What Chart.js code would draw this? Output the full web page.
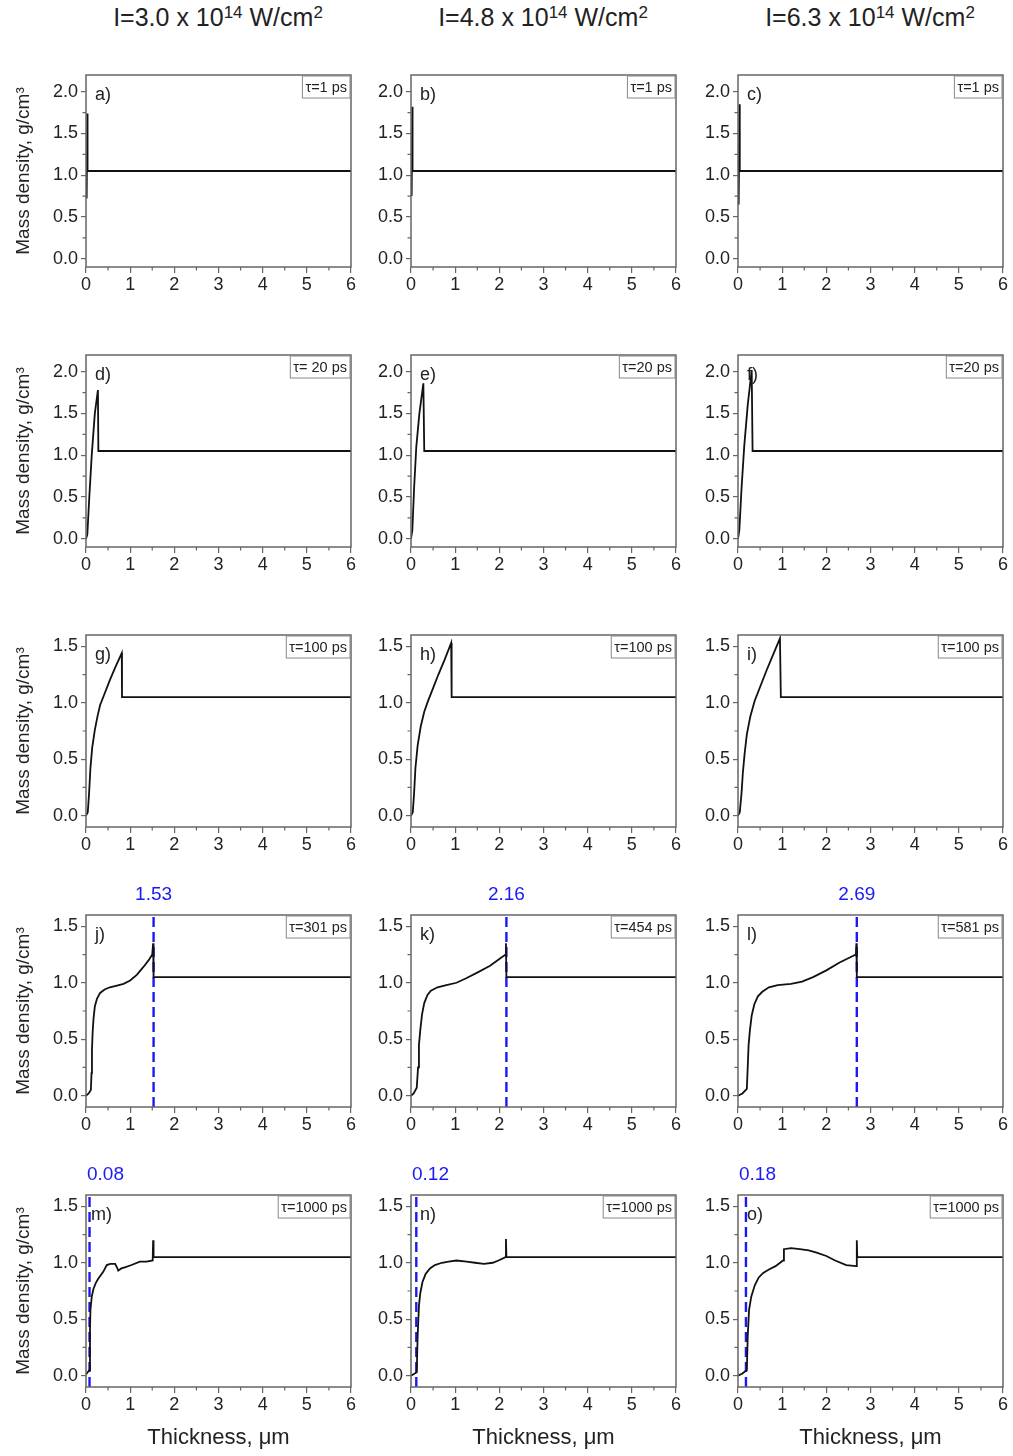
<!DOCTYPE html>
<html>
<head>
<meta charset="utf-8">
<script src="https://cdn.jsdelivr.net/npm/chart.js@4.4.1/dist/chart.umd.min.js"></script>
<style>
  body { margin: 0; background: #fff; }
  #page { position: relative; width: 1013px; height: 1456px; font-family: "Liberation Sans", Arial, sans-serif; color: #222; }
  #page canvas { position: absolute; }
  .head { position: absolute; top: 3px; width: 300px; text-align: center; font-size: 25px; white-space: nowrap; }
  .head sup { font-size: 17px; vertical-align: 8px; line-height: 0; }
</style>
</head>
<body>
<div id="page">
  <div class="head" style="left:68px">I=3.0 x 10<sup>14</sup> W/cm<sup>2</sup></div>
  <div class="head" style="left:393px">I=4.8 x 10<sup>14</sup> W/cm<sup>2</sup></div>
  <div class="head" style="left:720px">I=6.3 x 10<sup>14</sup> W/cm<sup>2</sup></div>
</div>
<script>
// density profiles, [thickness um, density g/cm3]
const profA = [[0.015, 0.72], [0.03, 1.74], [0.035, 1.05], [6, 1.05]];
const profB = [[0.015, 0.75], [0.03, 1.82], [0.035, 1.05], [6, 1.05]];
const profC = [[0.015, 0.65], [0.035, 1.85], [0.04, 1.05], [6, 1.05]];

const profD = [[0, 0], [0.03, 0.05], [0.075, 0.5], [0.13, 1.0], [0.2, 1.5], [0.27, 1.78], [0.28, 1.05], [6, 1.05]];
const profE = [[0, 0], [0.03, 0.1], [0.07, 0.6], [0.12, 1.1], [0.19, 1.5], [0.28, 1.86], [0.3, 1.05], [6, 1.05]];
const profF = [[0, 0], [0.03, 0.1], [0.08, 0.6], [0.14, 1.1], [0.22, 1.6], [0.31, 2.02], [0.33, 1.05], [6, 1.05]];

const profG = [[0, 0], [0.04, 0.03], [0.07, 0.2], [0.1, 0.42], [0.14, 0.6], [0.2, 0.76], [0.26, 0.88],
  [0.32, 0.98], [0.42, 1.08], [0.54, 1.2], [0.67, 1.32], [0.81, 1.44], [0.815, 1.05], [6, 1.05]];
const profH = [[0, 0], [0.04, 0.03], [0.07, 0.2], [0.1, 0.42], [0.15, 0.62], [0.22, 0.79], [0.3, 0.92],
  [0.38, 1.01], [0.5, 1.13], [0.62, 1.25], [0.76, 1.38], [0.91, 1.53], [0.92, 1.05], [6, 1.05]];
const profI = [[0, 0], [0.04, 0.03], [0.08, 0.2], [0.11, 0.38], [0.15, 0.55], [0.2, 0.72], [0.28, 0.88],
  [0.38, 1.02], [0.5, 1.14], [0.65, 1.29], [0.8, 1.43], [0.95, 1.57], [0.97, 1.05], [6, 1.05]];

const profJ = [[0, 0], [0.06, 0.02], [0.11, 0.05], [0.125, 0.2], [0.135, 0.4], [0.15, 0.56], [0.17, 0.68],
  [0.2, 0.79], [0.25, 0.86], [0.32, 0.91], [0.42, 0.94], [0.54, 0.96], [0.7, 0.975], [0.85, 0.99],
  [1.0, 1.02], [1.15, 1.07], [1.3, 1.14], [1.42, 1.2], [1.5, 1.25], [1.52, 1.35], [1.53, 1.05], [6, 1.05]];
const profK = [[0, 0], [0.06, 0.02], [0.13, 0.07], [0.16, 0.25], [0.18, 0.45], [0.21, 0.58], [0.25, 0.72],
  [0.3, 0.82], [0.37, 0.89], [0.45, 0.93], [0.6, 0.96], [0.8, 0.98], [1.03, 1.0], [1.25, 1.04],
  [1.5, 1.09], [1.79, 1.15], [2.0, 1.21], [2.14, 1.25], [2.15, 1.35], [2.16, 1.05], [6, 1.05]];
const profL = [[0, 0], [0.1, 0.02], [0.2, 0.06], [0.22, 0.25], [0.24, 0.45], [0.27, 0.58], [0.31, 0.71],
  [0.37, 0.81], [0.45, 0.88], [0.55, 0.92], [0.7, 0.96], [0.9, 0.98], [1.2, 0.99], [1.45, 1.01],
  [1.7, 1.05], [2.0, 1.11], [2.3, 1.18], [2.67, 1.25], [2.68, 1.35], [2.69, 1.05], [6, 1.05]];

const profM = [[0, 0.01], [0.075, 0.05], [0.09, 0.4], [0.1, 0.58], [0.13, 0.7], [0.17, 0.77], [0.22, 0.82],
  [0.28, 0.86], [0.39, 0.92], [0.47, 0.98], [0.55, 0.99], [0.66, 0.99], [0.7, 0.96], [0.73, 0.93],
  [0.8, 0.95], [0.88, 0.96], [1.03, 0.98], [1.22, 1.01], [1.37, 1.01], [1.51, 1.02], [1.52, 1.2],
  [1.53, 1.05], [6, 1.05]];
const profN = [[0, 0], [0.13, 0.03], [0.15, 0.35], [0.18, 0.62], [0.21, 0.73], [0.26, 0.83], [0.33, 0.9],
  [0.43, 0.95], [0.54, 0.98], [0.7, 1.0], [0.85, 1.01], [1.03, 1.02], [1.26, 1.01], [1.45, 1.0],
  [1.65, 0.99], [1.85, 1.0], [1.98, 1.02], [2.14, 1.05], [2.15, 1.21], [2.16, 1.05], [6, 1.05]];
const profO = [[0, 0], [0.1, 0.02], [0.2, 0.05], [0.22, 0.35], [0.25, 0.58], [0.3, 0.7], [0.38, 0.8],
  [0.47, 0.87], [0.57, 0.91], [0.7, 0.94], [0.85, 0.97], [1.02, 1.02], [1.04, 1.12], [1.2, 1.13],
  [1.4, 1.12], [1.6, 1.11], [1.78, 1.09], [2.0, 1.06], [2.2, 1.02], [2.45, 0.98], [2.68, 0.97],
  [2.69, 1.2], [2.7, 1.05], [6, 1.05]];

const panelTags = ['a)', 'b)', 'c)', 'd)', 'e)', 'f)', 'g)', 'h)', 'i)', 'j)', 'k)', 'l)', 'm)', 'n)', 'o)'];
const tauText = ['τ=1 ps', 'τ=1 ps', 'τ=1 ps', 'τ= 20 ps', 'τ=20 ps', 'τ=20 ps',
  'τ=100 ps', 'τ=100 ps', 'τ=100 ps', 'τ=301 ps', 'τ=454 ps', 'τ=581 ps',
  'τ=1000 ps', 'τ=1000 ps', 'τ=1000 ps'];
// shock / ablation front positions, um
const frontPos = [null, null, null, null, null, null, null, null, null, 1.53, 2.16, 2.69, 0.08, 0.12, 0.18];

const xTicks = [0, 1, 2, 3, 4, 5, 6];
const yTicksTall = [0, 0.5, 1, 1.5, 2];
const yTicksShort = [0, 0.5, 1, 1.5];
const yMaxRow = [2.2, 2.2, 1.6, 1.6, 1.6];
const Y_MIN = -0.1;

// layout
const colLeft = [86, 411, 738];
const rowTop = [75, 355, 635, 915, 1195];
const PLOT_W = 265, PLOT_H = 192;
const PAD_TOP = 40, PAD_RIGHT = 12;
const FONT = '"Liberation Sans", Arial, sans-serif';
const FRAME = '#666';
const BLUE = '#1a1af5';

const profiles = [profA, profB, profC, profD, profE, profF, profG, profH, profI, profJ, profK, profL, profM, profN, profO];
const page = document.getElementById('page');

profiles.forEach((pts, i) => {
  const row = Math.floor(i / 3), col = i % 3;
  const axisW = col === 0 ? 86 : 60;
  const axisH = row === 4 ? 70 : 30;
  const yMax = yMaxRow[row];
  const yTicks = row < 2 ? yTicksTall : yTicksShort;

  const cv = document.createElement('canvas');
  const w = axisW + PLOT_W + PAD_RIGHT, h = PAD_TOP + PLOT_H + axisH;
  cv.width = w; cv.height = h;
  cv.style.width = w + 'px'; cv.style.height = h + 'px';
  cv.style.left = (colLeft[col] - axisW) + 'px';
  cv.style.top = (rowTop[row] - PAD_TOP) + 'px';
  page.appendChild(cv);

  const datasets = [{
    data: pts.map(p => ({ x: p[0], y: p[1] })),
    showLine: true, borderColor: '#111', borderWidth: 1.8, pointRadius: 0, tension: 0
  }];
  if (frontPos[i] != null) {
    datasets.push({
      data: [{ x: frontPos[i], y: Y_MIN }, { x: frontPos[i], y: yMax }],
      showLine: true, borderColor: BLUE, borderWidth: 2.4, borderDash: [10, 5], pointRadius: 0
    });
  }

  // frame, minor ticks, panel tag, time box, front label
  const decor = {
    id: 'decor',
    afterDraw(chart) {
      const { ctx, chartArea: a, scales: { x, y } } = chart;
      ctx.save();
      ctx.strokeStyle = FRAME;
      ctx.lineWidth = 1.5;
      ctx.strokeRect(a.left, a.top, a.right - a.left, a.bottom - a.top);

      ctx.lineWidth = 1.2;
      ctx.beginPath();
      for (let v = 0.5; v < 6; v += 1) {
        const px = x.getPixelForValue(v);
        ctx.moveTo(px, a.bottom); ctx.lineTo(px, a.bottom + 3.5);
      }
      for (let v = 0.25; v < yMax; v += 0.5) {
        const py = y.getPixelForValue(v);
        ctx.moveTo(a.left, py); ctx.lineTo(a.left - 3.5, py);
      }
      ctx.stroke();

      ctx.fillStyle = '#222';
      ctx.font = '18px ' + FONT;
      ctx.textBaseline = 'middle';
      ctx.textAlign = 'left';
      ctx.fillText(panelTags[i], a.left + (i === 12 ? 5 : 9), a.top + 20);

      ctx.font = '14.5px ' + FONT;
      const tw = ctx.measureText(tauText[i]).width;
      const bx = a.right - 1 - tw - 6;
      ctx.fillStyle = '#fff';
      ctx.fillRect(bx, a.top + 1, tw + 6, 22);
      ctx.strokeStyle = '#888';
      ctx.lineWidth = 1;
      ctx.strokeRect(bx, a.top + 1, tw + 6, 22);
      ctx.fillStyle = '#222';
      ctx.fillText(tauText[i], bx + 3, a.top + 12.5);

      if (frontPos[i] != null) {
        const label = frontPos[i].toFixed(2);
        ctx.font = '19px ' + FONT;
        ctx.fillStyle = BLUE;
        ctx.textAlign = 'center';
        const lw = ctx.measureText(label).width;
        const cx = Math.max(x.getPixelForValue(frontPos[i]), a.left + lw / 2 + 1);
        ctx.fillText(label, cx, a.top - 20);
      }
      ctx.restore();
    }
  };

  const tickFont = { family: FONT, size: 18 };
  new Chart(cv, {
    type: 'scatter',
    data: { datasets },
    options: {
      responsive: false,
      animation: false,
      devicePixelRatio: 1,
      layout: { padding: { top: PAD_TOP, right: PAD_RIGHT, left: 0, bottom: 0 } },
      plugins: { legend: { display: false }, tooltip: { enabled: false } },
      scales: {
        x: {
          type: 'linear', min: 0, max: 6,
          afterBuildTicks: s => { s.ticks = xTicks.map(v => ({ value: v })); },
          afterFit: s => { s.height = axisH; },
          border: { display: false },
          grid: { drawOnChartArea: false, tickLength: 6, color: FRAME, lineWidth: 1.2 },
          ticks: { padding: 1, color: '#222', font: tickFont, maxRotation: 0, autoSkip: false, callback: v => String(v) },
          title: { display: row === 4, text: 'Thickness, μm', color: '#222', font: { family: FONT, size: 22 }, padding: { top: 0, bottom: 6 } }
        },
        y: {
          type: 'linear', min: Y_MIN, max: yMax,
          afterBuildTicks: s => { s.ticks = yTicks.map(v => ({ value: v })); },
          afterFit: s => { s.width = axisW; },
          border: { display: false },
          grid: { drawOnChartArea: false, tickLength: 5, color: FRAME, lineWidth: 1.2 },
          ticks: { padding: 3, color: '#222', font: tickFont, autoSkip: false, callback: v => v.toFixed(1) },
          title: { display: col === 0, text: 'Mass density, g/cm³', color: '#222', font: { family: FONT, size: 19 }, padding: { top: 12, bottom: 0 } }
        }
      }
    },
    plugins: [decor]
  });
});
</script>
</body>
</html>
